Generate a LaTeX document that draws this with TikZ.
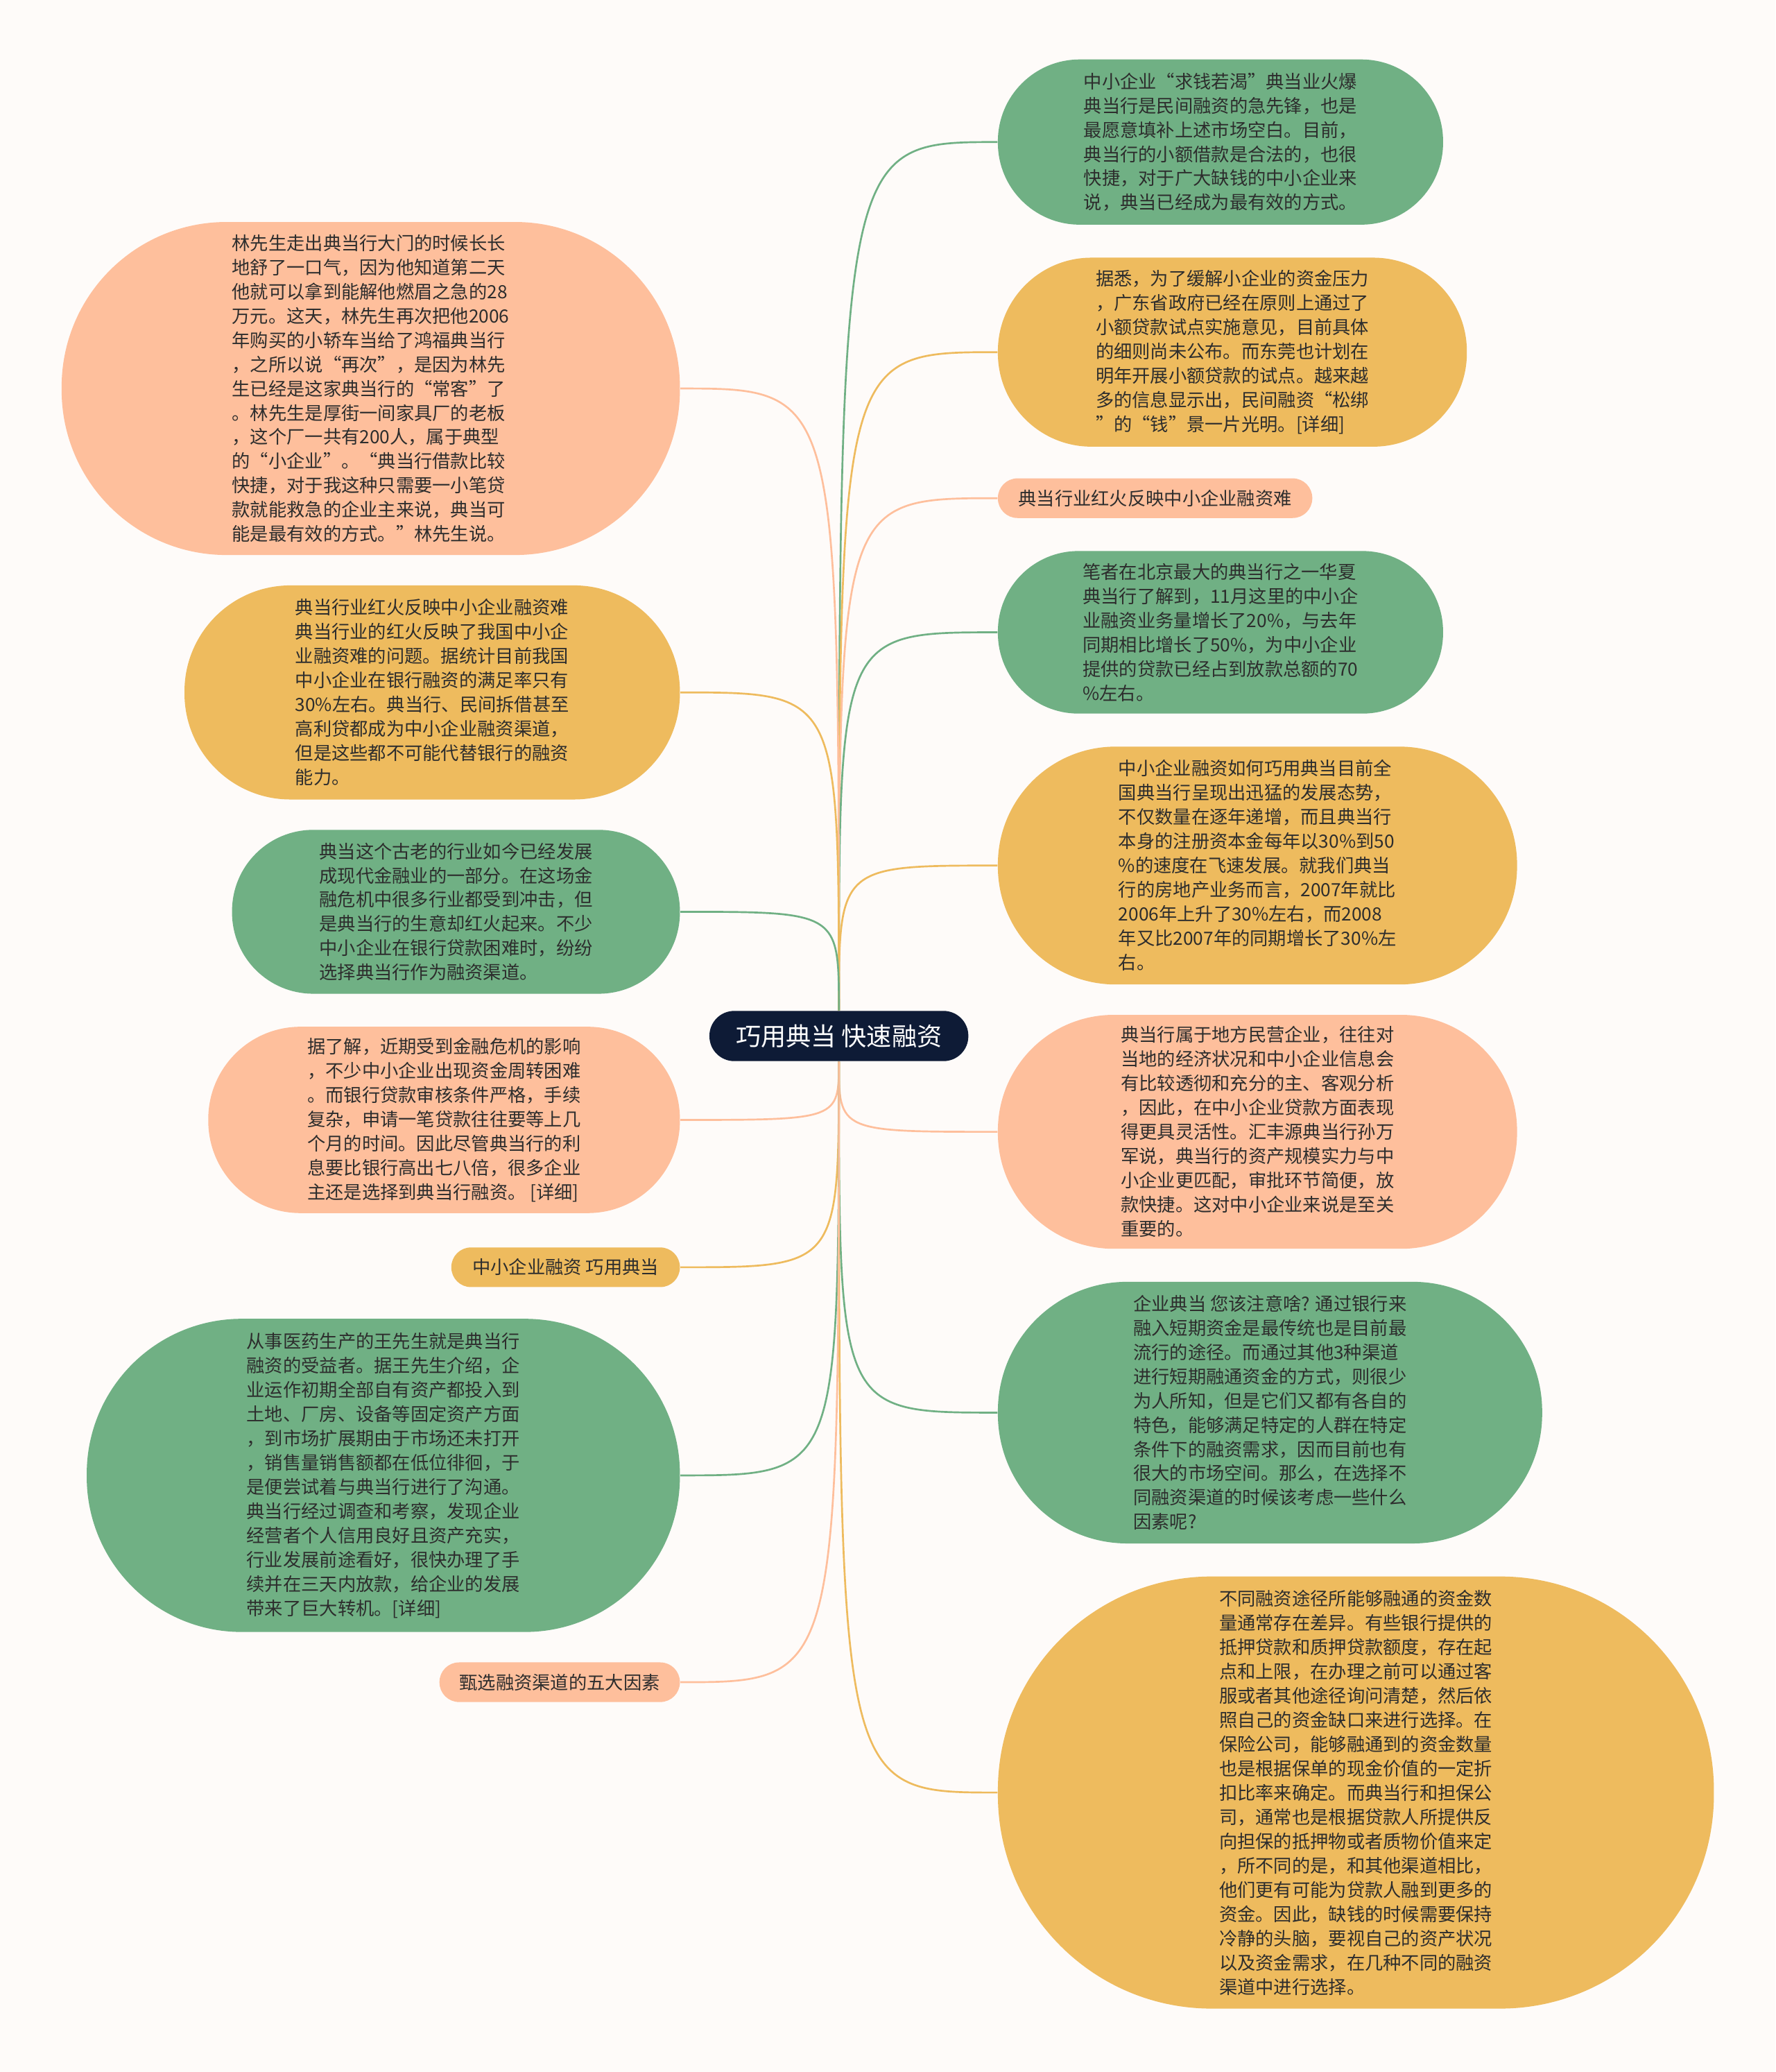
\documentclass[tikz,border=0pt]{standalone}
\usepackage{fontspec}
\setmainfont{Noto Sans CJK SC}
\usepackage{xcolor}
\definecolor{grn}{RGB}{112,176,132}
\definecolor{ylw}{RGB}{238,187,94}
\definecolor{slm}{RGB}{254,191,156}
\definecolor{nvy}{RGB}{14,27,54}
\definecolor{bg}{RGB}{254,251,249}
\definecolor{txt}{RGB}{45,45,45}

\begin{document}
\begin{tikzpicture}[x=0.02cm, y=-0.02cm,
  box/.style 2 args={rectangle, minimum width=#1*0.02cm, minimum height=#2*0.02cm,
    rounded corners=#2*0.0099cm, inner sep=0.05cm, align=left,
    font=\fontsize{7.85}{10.45}\selectfont, text=txt},
  link/.style={line width=0.8pt}]
\fill[bg] (0,0) rectangle (1344,1568);

\node[box={196}{38}, fill=nvy, text=white, font=\fontsize{10.8}{12}\selectfont] (C) at (635,784) {巧用典当 快速融资};

% right side
\node[box={337}{125}, fill=grn, anchor=west] (R1) at (755,107.5) {中小企业“求钱若渴”典当业火爆\\
典当行是民间融资的急先锋，也是\\
最愿意填补上述市场空白。目前，\\
典当行的小额借款是合法的，也很\\
快捷，对于广大缺钱的中小企业来\\
说，典当已经成为最有效的方式。};
\node[box={355}{143}, fill=ylw, anchor=west] (R2) at (755,266.5) {据悉，为了缓解小企业的资金压力\\
，广东省政府已经在原则上通过了\\
小额贷款试点实施意见，目前具体\\
的细则尚未公布。而东莞也计划在\\
明年开展小额贷款的试点。越来越\\
多的信息显示出，民间融资“松绑\\
”的“钱”景一片光明。[详细]};
\node[box={238}{30}, fill=slm, anchor=west] (R3) at (755,377) {典当行业红火反映中小企业融资难};
\node[box={337}{123}, fill=grn, anchor=west] (R4) at (755,478.5) {笔者在北京最大的典当行之一华夏\\
典当行了解到，11月这里的中小企\\
业融资业务量增长了20\%，与去年\\
同期相比增长了50\%，为中小企业\\
提供的贷款已经占到放款总额的70\\
\%左右。};
\node[box={393}{180}, fill=ylw, anchor=west] (R5) at (755,655) {中小企业融资如何巧用典当目前全\\
国典当行呈现出迅猛的发展态势，\\
不仅数量在逐年递增，而且典当行\\
本身的注册资本金每年以30\%到50\\
\%的速度在飞速发展。就我们典当\\
行的房地产业务而言，2007年就比\\
2006年上升了30\%左右，而2008\\
年又比2007年的同期增长了30\%左\\
右。};
\node[box={393}{177}, fill=slm, anchor=west] (R6) at (755,856.5) {典当行属于地方民营企业，往往对\\
当地的经济状况和中小企业信息会\\
有比较透彻和充分的主、客观分析\\
，因此，在中小企业贷款方面表现\\
得更具灵活性。汇丰源典当行孙万\\
军说，典当行的资产规模实力与中\\
小企业更匹配，审批环节简便，放\\
款快捷。这对中小企业来说是至关\\
重要的。};
\node[box={412}{198}, fill=grn, anchor=west] (R7) at (755,1069) {企业典当 您该注意啥? 通过银行来\\
融入短期资金是最传统也是目前最\\
流行的途径。而通过其他3种渠道\\
进行短期融通资金的方式，则很少\\
为人所知，但是它们又都有各自的\\
特色，能够满足特定的人群在特定\\
条件下的融资需求，因而目前也有\\
很大的市场空间。那么，在选择不\\
同融资渠道的时候该考虑一些什么\\
因素呢?};
\node[box={542}{327}, fill=ylw, anchor=west] (R8) at (755,1356.5) {不同融资途径所能够融通的资金数\\
量通常存在差异。有些银行提供的\\
抵押贷款和质押贷款额度，存在起\\
点和上限，在办理之前可以通过客\\
服或者其他途径询问清楚，然后依\\
照自己的资金缺口来进行选择。在\\
保险公司，能够融通到的资金数量\\
也是根据保单的现金价值的一定折\\
扣比率来确定。而典当行和担保公\\
司，通常也是根据贷款人所提供反\\
向担保的抵押物或者质物价值来定\\
，所不同的是，和其他渠道相比，\\
他们更有可能为贷款人融到更多的\\
资金。因此，缺钱的时候需要保持\\
冷静的头脑，要视自己的资产状况\\
以及资金需求，在几种不同的融资\\
渠道中进行选择。};

% left side
\node[box={468}{252}, fill=slm, anchor=east] (L1) at (515,294) {林先生走出典当行大门的时候长长\\
地舒了一口气，因为他知道第二天\\
他就可以拿到能解他燃眉之急的28\\
万元。这天，林先生再次把他2006\\
年购买的小轿车当给了鸿福典当行\\
，之所以说“再次”，是因为林先\\
生已经是这家典当行的“常客”了\\
。林先生是厚街一间家具厂的老板\\
，这个厂一共有200人，属于典型\\
的“小企业”。“典当行借款比较\\
快捷，对于我这种只需要一小笔贷\\
款就能救急的企业主来说，典当可\\
能是最有效的方式。”林先生说。};
\node[box={375}{162}, fill=ylw, anchor=east] (L2) at (515,524) {典当行业红火反映中小企业融资难\\
典当行业的红火反映了我国中小企\\
业融资难的问题。据统计目前我国\\
中小企业在银行融资的满足率只有\\
30\%左右。典当行、民间拆借甚至\\
高利贷都成为中小企业融资渠道，\\
但是这些都不可能代替银行的融资\\
能力。};
\node[box={339}{124}, fill=grn, anchor=east] (L3) at (515,690) {典当这个古老的行业如今已经发展\\
成现代金融业的一部分。在这场金\\
融危机中很多行业都受到冲击，但\\
是典当行的生意却红火起来。不少\\
中小企业在银行贷款困难时，纷纷\\
选择典当行作为融资渠道。};
\node[box={357}{141}, fill=slm, anchor=east] (L4) at (515,847.5) {据了解，近期受到金融危机的影响\\
，不少中小企业出现资金周转困难\\
。而银行贷款审核条件严格，手续\\
复杂，申请一笔贷款往往要等上几\\
个月的时间。因此尽管典当行的利\\
息要比银行高出七八倍，很多企业\\
主还是选择到典当行融资。 [详细]};
\node[box={173}{30}, fill=ylw, anchor=east] (L5) at (515,959) {中小企业融资 巧用典当};
\node[box={449}{237}, fill=grn, anchor=east] (L6) at (515,1116.5) {从事医药生产的王先生就是典当行\\
融资的受益者。据王先生介绍，企\\
业运作初期全部自有资产都投入到\\
土地、厂房、设备等固定资产方面\\
，到市场扩展期由于市场还未打开\\
，销售量销售额都在低位徘徊，于\\
是便尝试着与典当行进行了沟通。\\
典当行经过调查和考察，发现企业\\
经营者个人信用良好且资产充实，\\
行业发展前途看好，很快办理了手\\
续并在三天内放款，给企业的发展\\
带来了巨大转机。[详细]};
\node[box={182}{30}, fill=slm, anchor=east] (L7) at (515,1273) {甄选融资渠道的五大因素};

% connectors
\draw[link, grn] (C) .. controls (C |- R1.west) .. (R1.west);
\draw[link, ylw] (C) .. controls (C |- R2.west) .. (R2.west);
\draw[link, slm] (C) .. controls (C |- R3.west) .. (R3.west);
\draw[link, grn] (C) .. controls (C |- R4.west) .. (R4.west);
\draw[link, ylw] (C) .. controls (C |- R5.west) .. (R5.west);
\draw[link, slm] (C) .. controls (C |- R6.west) .. (R6.west);
\draw[link, grn] (C) .. controls (C |- R7.west) .. (R7.west);
\draw[link, ylw] (C) .. controls (C |- R8.west) .. (R8.west);
\draw[link, slm] (C) .. controls (C |- L1.east) .. (L1.east);
\draw[link, ylw] (C) .. controls (C |- L2.east) .. (L2.east);
\draw[link, grn] (C) .. controls (C |- L3.east) .. (L3.east);
\draw[link, slm] (C) .. controls (C |- L4.east) .. (L4.east);
\draw[link, ylw] (C) .. controls (C |- L5.east) .. (L5.east);
\draw[link, grn] (C) .. controls (C |- L6.east) .. (L6.east);
\draw[link, slm] (C) .. controls (C |- L7.east) .. (L7.east);
\end{tikzpicture}
\end{document}
